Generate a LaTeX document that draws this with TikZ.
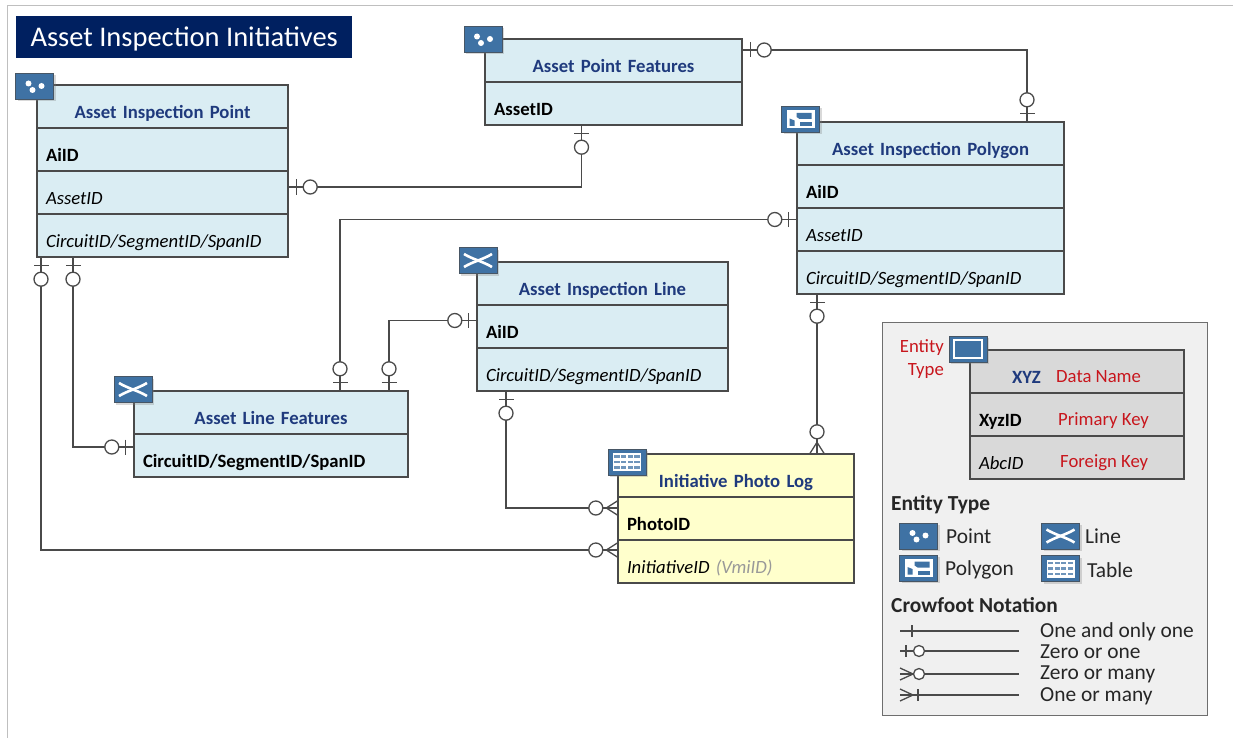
\documentclass[tikz,border=0pt]{standalone}
\usepackage{fontspec}
\setmainfont{Carlito}
\usetikzlibrary{decorations.markings,shadows}
\definecolor{headblue}{HTML}{1F3A7D}
\definecolor{iconblue}{HTML}{3F72A4}
\definecolor{edgegray}{HTML}{4A4A4A}
\definecolor{tabblue}{HTML}{DAEDF3}
\definecolor{tabyellow}{HTML}{FFFFCC}
\definecolor{redtext}{HTML}{C8161D}
\definecolor{pagenavy}{HTML}{002060}
\newcommand{\oneMark}{
  \draw[connline](7.5,-7.5) -- (7.5,7.5);
  \draw[connline,fill=white](21.5,0) circle [radius=7];
}
\newcommand{\manyMark}{
  \draw[connline](0,-7) -- (11,0) -- (0,7);
  \draw[connline,fill=white](21.5,0) circle [radius=7];
}
\tikzset{
  connline/.style={draw=edgegray,line width=1.3pt},
  oneStart/.style={postaction={decorate,decoration={markings,mark=at position 0 with {\oneMark}}}},
  oneEnd/.style={postaction={decorate,decoration={markings,mark=at position 1 with {\begin{scope}[xscale=-1]\oneMark\end{scope}}}}},
  manyEnd/.style={postaction={decorate,decoration={markings,mark=at position 1 with {\begin{scope}[xscale=-1]\manyMark\end{scope}}}}},
  baserow/.style={draw=edgegray,line width=1.4pt,inner xsep=9pt,inner ysep=4pt,text height=29.3pt,text depth=5.7pt,anchor=north west,text width=#1-18pt},
  titlerow/.style={baserow=#1,align=center,font=\fontsize{18.7}{22}\selectfont\bfseries\color{headblue}},
  keyrow/.style={baserow=#1,yshift=1.4pt,align=left,font=\fontsize{18.7}{22}\selectfont\bfseries},
  fkrow/.style={baserow=#1,yshift=1.4pt,align=left,font=\fontsize{18.7}{22}\selectfont\itshape},
  lab/.style={anchor=base west,inner sep=0pt,font=\fontsize{21.4}{24}\selectfont,text=black!85},
  redlab/.style={anchor=base west,inner sep=0pt,font=\fontsize{18.7}{22}\selectfont,text=redtext},
  iconbox/.style={draw=edgegray!70!iconblue,line width=1pt,fill=iconblue,minimum width=38pt,minimum height=26pt,inner sep=0pt,drop shadow={shadow xshift=2pt,shadow yshift=-2pt,opacity=.3}},
  pointicon/.pic={
    \node[iconbox] (-box) {};
    \fill[white](-6,-3) circle [radius=3];
    \fill[white](-2,3.5) circle [radius=3];
    \fill[white](7,-0.5) circle [radius=3];
  },
  lineicon/.pic={
    \node[iconbox] (-box) {};
    \draw[white,line width=2.6pt](-14,-6.5) .. controls (-5,-1) and (5,1) .. (14,6.5);
    \draw[white,line width=2.6pt](-14,6.5) .. controls (-5,1) and (5,-1) .. (14,-6.5);
  },
  polyicon/.pic={
    \node[iconbox] (-box) {};
    \fill[white](-14,-9) rectangle (14,9);
    \fill[iconblue](-4,-6.5) -- (11,-6.5) -- (11,-0.5) -- (-1,-0.5) -- (-4,-2.5) -- cycle;
    \fill[iconblue](-1,3) -- (11,3) -- (11,6.5) -- (-1,6.5) -- cycle;
    \fill[iconblue](-11,-1) -- (-6,1) -- (-6,6.5) -- (-11,6.5) -- cycle;
  },
  tableicon/.pic={
    \node[iconbox] (-box) {};
    \fill[white](-14,-9) rectangle (14,9);
    \foreach \cx in {-10,-3.3,3.3,10}
      \foreach \cy in {-5.5,0,5.5}
        \fill[iconblue!75](\cx-2.6,\cy-1.4) rectangle (\cx+2.6,\cy+1.4);
  },
  entityicon/.pic={
    \node[iconbox] (-box) {};
    \draw[white,line width=2pt,fill=iconblue](-14,-9) rectangle (14,9);
  }
}
\begin{document}
\begin{tikzpicture}[x=1pt,y=-1pt]
  \useasboundingbox (0,0) rectangle (1233,738);
  \draw[black!25,line width=1.2pt](7.5,738) -- (7.5,5.5) -- (1233,5.5);
  \node[fill=pagenavy,minimum width=336pt,minimum height=42pt,inner sep=0pt,anchor=north west,text=white,text height=21pt,text depth=3pt,font=\fontsize{28.5}{32}\selectfont] (pagetitle) at (16,16) {Asset Inspection Initiatives};

  % point table
  \node[titlerow=251pt,fill=tabblue] (aipTitle) at (36.3,84.3) {Asset Inspection Point};
  \node[keyrow=251pt,fill=tabblue] (aipKey) at (aipTitle.south west) {AiID};
  \node[fkrow=251pt,fill=tabblue] (aipAsset) at (aipKey.south west) {AssetID};
  \node[fkrow=251pt,fill=tabblue] (aipCir) at (aipAsset.south west) {CircuitID/SegmentID/SpanID};

  \node[titlerow=257pt,fill=tabblue] (apfTitle) at (484.3,38.3) {Asset Point Features};
  \node[keyrow=257pt,fill=tabblue] (apfKey) at (apfTitle.south west) {AssetID};

  \node[titlerow=267pt,fill=tabblue] (apgTitle) at (796.3,121.3) {Asset Inspection Polygon};
  \node[keyrow=267pt,fill=tabblue] (apgKey) at (apgTitle.south west) {AiID};
  \node[fkrow=267pt,fill=tabblue] (apgAsset) at (apgKey.south west) {AssetID};
  \node[fkrow=267pt,fill=tabblue] (apgCir) at (apgAsset.south west) {CircuitID/SegmentID/SpanID};

  \node[titlerow=251pt,fill=tabblue] (alnTitle) at (476.3,261.3) {Asset Inspection Line};
  \node[keyrow=251pt,fill=tabblue] (alnKey) at (alnTitle.south west) {AiID};
  \node[fkrow=251pt,fill=tabblue] (alnCir) at (alnKey.south west) {CircuitID/SegmentID/SpanID};

  \node[titlerow=274pt,fill=tabblue] (lfTitle) at (133.3,390.3) {Asset Line Features};
  \node[keyrow=274pt,fill=tabblue] (lfKey) at (lfTitle.south west) {CircuitID/SegmentID/SpanID};

  \node[titlerow=236pt,fill=tabyellow] (logTitle) at (617.3,453.3) {Initiative Photo Log};
  \node[keyrow=236pt,fill=tabyellow] (logPhoto) at (logTitle.south west) {PhotoID};
  \node[fkrow=236pt,fill=tabyellow] (logInit) at (logPhoto.south west) {InitiativeID \textcolor{black!40}{(VmiID)}};

  % connectors
  \draw[connline,oneStart,oneEnd]([yshift=5.5pt]aipAsset.east) -| ([xshift=-32pt]apfKey.south);
  \draw[connline,oneStart,oneEnd]([yshift=10.5pt]apfTitle.east) -| ([xshift=96.5pt]apgTitle.north);
  \draw[connline,oneStart,oneEnd]([yshift=10pt]apgAsset.west) -| ([xshift=69pt]lfTitle.north);
  \draw[connline,oneStart,oneEnd]([xshift=118pt]lfTitle.north) |- ([yshift=6pt]alnKey.west);
  \draw[connline,oneStart,oneEnd]([xshift=-89.5pt]aipCir.south) |- ([yshift=8.5pt]lfKey.west);
  \draw[connline,oneStart,manyEnd]([xshift=-121.5pt]aipCir.south) |- ([yshift=11.5pt]logInit.west);
  \draw[connline,oneStart,manyEnd]([xshift=-96.5pt]alnCir.south) |- ([yshift=10.5pt]logPhoto.west);
  \draw[connline,oneStart,manyEnd]([xshift=-113.5pt]apgCir.south) -- ([xshift=81pt]logTitle.north);

  \pic (aipIcon) at (34.5,86.5) {pointicon};
  \pic (apfIcon) at (483,39.5) {pointicon};
  \pic (apgIcon) at (800.5,119.5) {polyicon};
  \pic (alnIcon) at (478,260.5) {lineicon};
  \pic (lfIcon) at (133,389.5) {lineicon};
  \pic (logIcon) at (627,462) {tableicon};

  % legend
  \node[draw=edgegray!80,line width=1.4pt,fill=black!6,minimum width=325pt,minimum height=393pt,inner sep=0pt,anchor=north west] (legend) at (882,322) {};
  \node[titlerow=214pt,fill=black!15,align=left] (lgTitle) at (969.3,349.3) {\hspace{33pt}XYZ};
  \node[keyrow=214pt,fill=black!15] (lgKey) at (lgTitle.south west) {XyzID};
  \node[fkrow=214pt,fill=black!15] (lgFk) at (lgKey.south west) {AbcID};
  \pic (lgIcon) at (968,349) {entityicon};
  \node[redlab,align=right,anchor=north east,font=\fontsize{18.7}{23.5}\selectfont] (lgType) at (944,339) {Entity\\Type};
  \node[redlab] (lgName) at (1056,382) {Data Name};
  \node[redlab] (lgPrimary) at (1058,425) {Primary Key};
  \node[redlab] (lgForeign) at (1060,467) {Foreign Key};

  \node[lab,font=\fontsize{21.4}{24}\selectfont\bfseries] (lgEntity) at (891,510) {Entity Type};
  \pic (lgPoint) at (918.5,536) {pointicon};
  \pic (lgLine) at (1060.5,536) {lineicon};
  \pic (lgPoly) at (918.5,568) {polyicon};
  \pic (lgTable) at (1060.5,568.5) {tableicon};
  \node[lab] (lgPointText) at (946,543) {Point};
  \node[lab] (lgLineText) at (1085,543) {Line};
  \node[lab] (lgPolyText) at (945,575) {Polygon};
  \node[lab] (lgTableText) at (1087,577) {Table};

  \node[lab,font=\fontsize{21.4}{24}\selectfont\bfseries] (lgCrow) at (891,612) {Crowfoot Notation};
  \node[lab] (lgOne) at (1040,637) {One and only one};
  \node[lab] (lgZeroOne) at (1040,658) {Zero or one};
  \node[lab] (lgZeroMany) at (1040,679) {Zero or many};
  \node[lab] (lgOneMany) at (1040,701) {One or many};

  \coordinate (sOne) at (900,631);
  \coordinate (sZeroOne) at (900,651);
  \coordinate (sZeroMany) at (900,674);
  \coordinate (sOneMany) at (900,695);
  \draw[connline](sOne) -- (sOne -| 1019,0);
  \draw[connline](sZeroOne) -- (sZeroOne -| 1019,0);
  \draw[connline](sZeroMany) -- (sZeroMany -| 1019,0);
  \draw[connline](sOneMany) -- (sOneMany -| 1019,0);
  \draw[connline](912,625) -- (912,637);
  \draw[connline](906,645) -- (906,657);
  \draw[connline,fill=white](919,651) circle [radius=5.5];
  \draw[connline](900,668) -- (913,674) -- (900,680);
  \draw[connline,fill=white](919,674) circle [radius=5.5];
  \draw[connline](900,689) -- (913,695) -- (900,701);
  \draw[connline](918,689) -- (918,701);
\end{tikzpicture}
\end{document}
